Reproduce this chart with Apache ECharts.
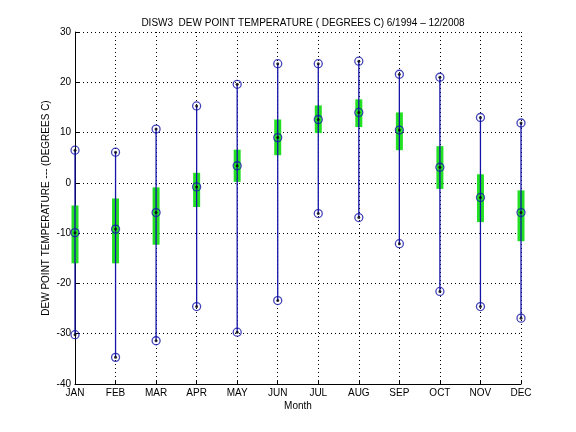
<!DOCTYPE html>
<html style="height: 100%">
    <head>
        <meta charset="utf-8">
    </head>
    <body style="height: 100%; margin: 0; background: #fff">
        <div id="container" style="width: 576px; height: 432px"></div>

        <script type="text/javascript" src="https://cdn.jsdelivr.net/npm/echarts@6/dist/echarts.min.js"></script>
        <script type="text/javascript">

var months = ['JAN', 'FEB', 'MAR', 'APR', 'MAY', 'JUN', 'JUL', 'AUG', 'SEP', 'OCT', 'NOV', 'DEC'];
var maxVals = [6.5, 6.1, 10.7, 15.3, 19.6, 23.7, 23.7, 24.2, 21.6, 21.0, 13.0, 11.9];
var meanVals = [-9.9, -9.2, -5.9, -0.8, 3.4, 9.0, 12.6, 14.0, 10.5, 3.1, -2.9, -5.9];
var minVals = [-30.2, -34.7, -31.4, -24.6, -29.7, -23.4, -6.1, -6.9, -12.1, -21.6, -24.6, -26.9];
var bandHigh = [-4.5, -3.1, -0.9, 2.0, 6.6, 12.6, 15.4, 16.6, 14.0, 7.3, 1.7, -1.5];
var bandLow = [-16.0, -16.0, -12.3, -4.8, 0.2, 5.5, 9.9, 11.1, 6.5, -1.2, -7.8, -11.6];

var dom = document.getElementById("container");
var myChart = echarts.init(dom);

var font = 'Liberation Sans';
var blue = '#1414a8';

// [index, low, high] rows for the custom series
var rangeRows = months.map((m, i) => [i, minVals[i], maxVals[i]]);
var bandRows = months.map((m, i) => [i, bandLow[i], bandHigh[i]]);
var allPoints = [];
months.forEach((m, i) => {
    allPoints.push([i, maxVals[i]], [i, meanVals[i]], [i, minVals[i]]);
});

var option = {
    animation: false,
    backgroundColor: '#fff',
    textStyle: { fontFamily: font },
    title: {
        text: 'DISW3  DEW POINT TEMPERATURE ( DEGREES C) 6/1994 \u2013 12/2008',
        left: 298,
        top: 13,
        textAlign: 'center',
        textStyle: { fontSize: 10, fontWeight: 'normal', color: '#000', fontFamily: font }
    },
    grid: { left: 75, right: 55, top: 32, bottom: 48 },
    xAxis: {
        type: 'category',
        data: months,
        boundaryGap: false,
        name: 'Month',
        nameLocation: 'middle',
        nameGap: 17,
        nameMoveOverlap: false,
        nameTextStyle: { fontSize: 10, color: '#000' },
        axisLine: { onZero: false, lineStyle: { color: '#000', width: 1 } },
        axisTick: { inside: true, length: 4, lineStyle: { color: '#000' } },
        axisLabel: { color: '#000', fontSize: 10, margin: 4, interval: 0 },
        splitLine: { show: true, interval: 0, lineStyle: { color: '#000', type: [1, 3], width: 1 } }
    },
    yAxis: {
        type: 'value',
        min: -40,
        max: 30,
        interval: 10,
        name: 'DEW POINT TEMPERATURE --- (DEGREES C)',
        nameLocation: 'middle',
        nameGap: 24,
        nameMoveOverlap: false,
        nameTextStyle: { fontSize: 10, color: '#000' },
        axisLine: { show: true, lineStyle: { color: '#000', width: 1 } },
        axisTick: { show: true, inside: true, length: 4, lineStyle: { color: '#000' } },
        axisLabel: { color: '#000', fontSize: 10, margin: 4 },
        splitLine: { show: true, lineStyle: { color: '#000', type: [1, 3], width: 1 } }
    },
    series: [
        {
            type: 'custom',
            name: 'band',
            data: bandRows,
            encode: { x: 0, y: [1, 2] },
            z: 2,
            renderItem: function (params, api) {
                var top = api.coord([api.value(0), api.value(2)]);
                var bot = api.coord([api.value(0), api.value(1)]);
                return {
                    type: 'rect',
                    shape: { x: top[0] - 3.5, y: top[1], width: 7, height: bot[1] - top[1] },
                    style: { fill: '#22e022' }
                };
            }
        },
        {
            type: 'custom',
            name: 'range',
            data: rangeRows,
            encode: { x: 0, y: [1, 2] },
            z: 3,
            renderItem: function (params, api) {
                var top = api.coord([api.value(0), api.value(2)]);
                var bot = api.coord([api.value(0), api.value(1)]);
                return {
                    type: 'line',
                    shape: { x1: top[0], y1: top[1], x2: bot[0], y2: bot[1] },
                    style: { stroke: blue, lineWidth: 1.3 }
                };
            }
        },
        {
            type: 'scatter',
            name: 'ring',
            data: allPoints,
            symbol: 'circle',
            symbolSize: 8,
            z: 4,
            itemStyle: { color: 'rgba(0,0,0,0)', borderColor: blue, borderWidth: 1.3 }
        },
        {
            type: 'scatter',
            name: 'dot',
            data: allPoints,
            symbol: 'circle',
            symbolSize: 3,
            z: 5,
            itemStyle: { color: '#000' }
        }
    ]
};

if (option && typeof option === 'object') {
    myChart.setOption(option);
}

        </script>
    </body>
</html>
